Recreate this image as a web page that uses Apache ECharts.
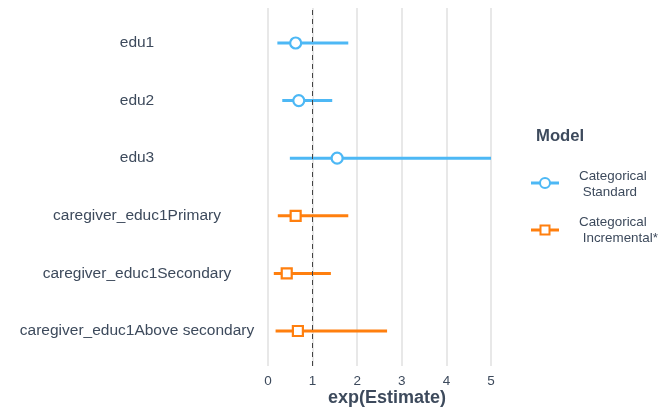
<!DOCTYPE html>
<html>
<head>
<meta charset="utf-8">
<script src="https://cdn.jsdelivr.net/npm/echarts@6/dist/echarts.min.js"></script>
<style>
  html, body { margin: 0; padding: 0; background: #fff; }
  #chart { width: 666px; height: 407px; }
</style>
</head>
<body>
<div id="chart"></div>
<script>
// Terms, top to bottom
const terms = ['edu1', 'edu2', 'edu3', 'caregiver_educ1Primary', 'caregiver_educ1Secondary', 'caregiver_educ1Above secondary'];

// Categorical Standard model: exp(estimate) with lower/upper interval
const stdTerms = ['edu1', 'edu2', 'edu3'];
const stdEst   = [0.62, 0.69, 1.55];
const stdLow   = [0.21, 0.32, 0.49];
const stdHigh  = [1.80, 1.44, 5.00];

// Categorical Incremental* model
const incTerms = ['caregiver_educ1Primary', 'caregiver_educ1Secondary', 'caregiver_educ1Above secondary'];
const incEst   = [0.62, 0.42, 0.67];
const incLow   = [0.22, 0.13, 0.17];
const incHigh  = [1.80, 1.41, 2.67];

const xTicks = [0, 1, 2, 3, 4, 5];
const refLine = 1;

const BLUE = '#4db8f5';
const ORANGE = '#ff7f0e';
const TEXT = '#3d4a5c';
const FONT = '"Liberation Sans", Arial, Helvetica, sans-serif';

function barData(names, low, high) {
  return names.map((n, i) => [low[i], high[i], n]);
}
function pointData(names, est) {
  return names.map((n, i) => [est[i], n]);
}

function errorBar(color) {
  return function (params, api) {
    const y = api.value(2);
    const a = api.coord([api.value(0), y]);
    const b = api.coord([api.value(1), y]);
    return {
      type: 'line',
      shape: { x1: a[0], y1: a[1], x2: b[0], y2: b[1] },
      style: { stroke: color, lineWidth: 3 }
    };
  };
}

const chart = echarts.init(document.getElementById('chart'), null, { renderer: 'canvas' });

const legendX = 531;
function legendKey(y, color, symbol) {
  const els = [{
    type: 'line', shape: { x1: legendX, y1: y, x2: legendX + 28, y2: y },
    style: { stroke: color, lineWidth: 3 }
  }];
  if (symbol === 'circle') {
    els.push({ type: 'circle', shape: { cx: legendX + 14, cy: y, r: 5 },
      style: { fill: '#fff', stroke: color, lineWidth: 2 } });
  } else {
    els.push({ type: 'rect', shape: { x: legendX + 9.5, y: y - 4.5, width: 9, height: 9 },
      style: { fill: '#fff', stroke: color, lineWidth: 2 } });
  }
  return els;
}

chart.setOption({
  animation: false,
  backgroundColor: '#fff',
  textStyle: { fontFamily: FONT },
  grid: [
    { left: 268, right: 175, top: 8, bottom: 41, containLabel: false, outerBoundsMode: 'none' },
    { left: 268, right: 175, top: 14.2, bottom: 47.2, containLabel: false, outerBoundsMode: 'none' }
  ],
  xAxis: [
    {
      gridIndex: 0, type: 'value', min: xTicks[0], max: xTicks[xTicks.length - 1], interval: 1,
      axisLine: { show: false }, axisTick: { show: false },
      axisLabel: { color: TEXT, fontSize: 13.5, margin: 8, fontFamily: FONT },
      splitLine: { show: true, lineStyle: { color: '#e3e3e3', width: 1.6 } },
      name: 'exp(Estimate)', nameLocation: 'middle', nameGap: 23, nameMoveOverlap: false,
      nameTextStyle: { color: TEXT, fontSize: 18, fontWeight: 'bold', fontFamily: FONT, padding: [0, 0, 0, 15] }
    },
    {
      gridIndex: 1, type: 'value', min: xTicks[0], max: xTicks[xTicks.length - 1],
      show: false
    }
  ],
  yAxis: [
    { gridIndex: 0, type: 'value', min: 0, max: 1, show: false },
    {
      gridIndex: 1, type: 'category', data: terms, inverse: true,
      axisLine: { show: false }, axisTick: { show: false },
      splitLine: { show: false },
      axisLabel: { color: TEXT, fontSize: 15.5, margin: 131, align: 'center', fontFamily: FONT }
    }
  ],
  series: [
    {
      type: 'scatter', xAxisIndex: 0, yAxisIndex: 0, data: [], silent: true,
      markLine: {
        symbol: 'none', silent: true, label: { show: false },
        lineStyle: { color: '#444', type: [5, 4], width: 1 },
        data: [{ xAxis: refLine }]
      }
    },
    {
      type: 'custom', name: 'Categorical Standard', xAxisIndex: 1, yAxisIndex: 1,
      renderItem: errorBar(BLUE), data: barData(stdTerms, stdLow, stdHigh),
      encode: { x: [0, 1], y: 2 }, clip: true, z: 3
    },
    {
      type: 'custom', name: 'Categorical Incremental*', xAxisIndex: 1, yAxisIndex: 1,
      renderItem: errorBar(ORANGE), data: barData(incTerms, incLow, incHigh),
      encode: { x: [0, 1], y: 2 }, clip: true, z: 3
    },
    {
      type: 'scatter', xAxisIndex: 1, yAxisIndex: 1, symbol: 'circle', symbolSize: 11,
      data: pointData(stdTerms, stdEst), z: 4,
      itemStyle: { color: '#fff', borderColor: BLUE, borderWidth: 2.2, opacity: 1 }
    },
    {
      type: 'scatter', xAxisIndex: 1, yAxisIndex: 1, symbol: 'rect', symbolSize: 10,
      data: pointData(incTerms, incEst), z: 4,
      itemStyle: { color: '#fff', borderColor: ORANGE, borderWidth: 2.2, opacity: 1 }
    }
  ],
  graphic: [
    { type: 'text', left: 536, top: 128,
      style: { text: 'Model', fill: TEXT, font: 'bold 16.7px ' + FONT } },
    ...legendKey(183, BLUE, 'circle'),
    { type: 'text', left: 579, top: 168,
      style: { text: 'Categorical\n Standard', fill: TEXT, font: '13.4px ' + FONT, lineHeight: 16 } },
    ...legendKey(230, ORANGE, 'rect'),
    { type: 'text', left: 579, top: 214,
      style: { text: 'Categorical\n Incremental*', fill: TEXT, font: '13.4px ' + FONT, lineHeight: 16 } }
  ]
});
</script>
</body>
</html>
